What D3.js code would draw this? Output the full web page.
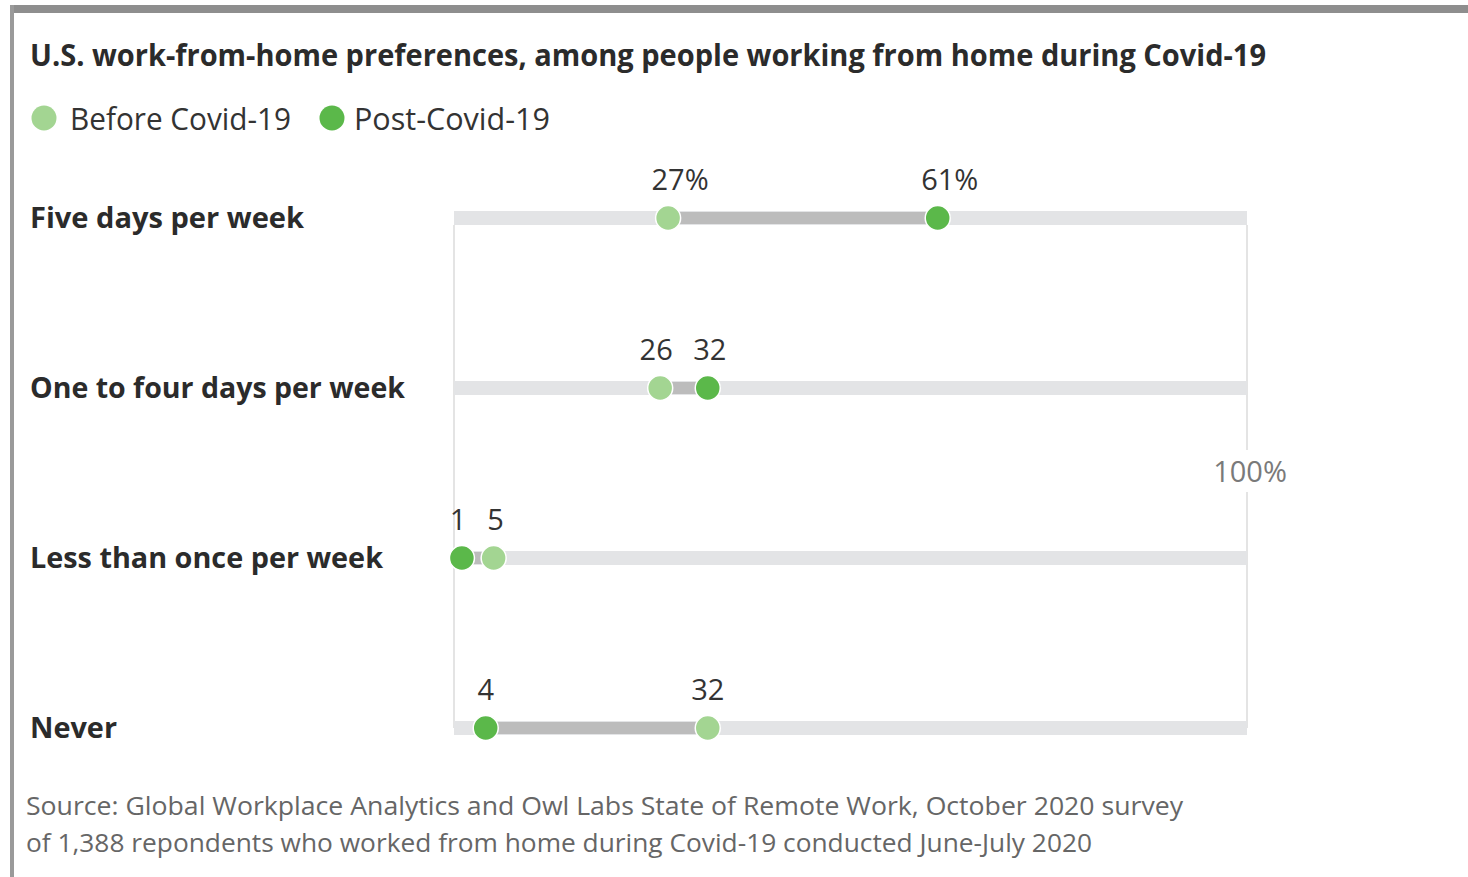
<!DOCTYPE html>
<html>
<head>
<meta charset="utf-8">
<script src="https://cdn.jsdelivr.net/npm/d3@7"></script>
<style>
  html, body { margin: 0; padding: 0; background: #fff; }
  svg { display: block; font-family: "Open Sans", "Noto Sans", sans-serif; }
</style>
</head>
<body>
<svg id="chart" width="1468" height="877"></svg>
<script>
// Share of remote workers by preferred work-from-home frequency
const categories = ["Five days per week", "One to four days per week", "Less than once per week", "Never"];
const beforeCovid = [27, 26, 5, 32];
const postCovid = [61, 32, 1, 4];
const seriesNames = ["Before Covid-19", "Post-Covid-19"];
const axisMaxLabel = "100%";
const title = "U.S. work-from-home preferences, among people working from home during Covid-19";
const sourceLines = [
  "Source: Global Workplace Analytics and Owl Labs State of Remote Work, October 2020 survey",
  "of 1,388 repondents who worked from home during Covid-19 conducted June-July 2020"
];

const colors = { before: "#a3d592", post: "#5bb84a", track: "#e3e4e6", span: "#bcbcbc", grid: "#e4e4e4" };

const svg = d3.select("#chart");

// frame
svg.append("rect").attr("x", 10).attr("y", 5).attr("width", 1458).attr("height", 8).attr("fill", "#8e8e8e");
svg.append("rect").attr("x", 10).attr("y", 5).attr("width", 4).attr("height", 872).attr("fill", "#9a9a9a");

// title
svg.append("text").attr("x", 30).attr("y", 66)
  .attr("font-size", 30).attr("font-weight", 700).attr("fill", "#2b2b2b")
  .attr("textLength", 1236).attr("lengthAdjust", "spacingAndGlyphs")
  .text(title);

// legend
const legend = [
  { name: seriesNames[0], color: colors.before, cx: 44, tx: 70, w: 221 },
  { name: seriesNames[1], color: colors.post, cx: 332, tx: 354, w: 196 }
];
legend.forEach(l => {
  svg.append("circle").attr("cx", l.cx).attr("cy", 118).attr("r", 12.5).attr("fill", l.color);
  svg.append("text").attr("x", l.tx).attr("y", 130).attr("font-size", 31).attr("fill", "#333")
    .attr("textLength", l.w).attr("lengthAdjust", "spacingAndGlyphs").text(l.name);
});

const x = d3.scaleLinear().domain([0, 100]).range([454, 1247]);
const y = d3.scalePoint().domain(categories).range([218, 728]);

// vertical guides at 0 and 100
const gridTop = y(categories[0]) + 7, gridBottom = y(categories[categories.length - 1]);
[0, 100].forEach(v => {
  svg.append("line").attr("x1", x(v)).attr("x2", x(v)).attr("y1", gridTop).attr("y2", gridBottom)
    .attr("stroke", colors.grid).attr("stroke-width", 2);
});

// 100% label with white knockout
svg.append("rect").attr("x", x(100) - 8).attr("y", 450).attr("width", 16).attr("height", 42).attr("fill", "#fff");
svg.append("text").attr("x", x(100) + 3).attr("y", 482).attr("text-anchor", "middle")
  .attr("font-size", 29).attr("fill", "#7a7a7a").text(axisMaxLabel);

const rows = categories.map((c, i) => ({ cat: c, before: beforeCovid[i], post: postCovid[i], first: i === 0 }));

const g = svg.append("g");

// row labels
const rowWidths = [274, 375, 353, 87];
g.selectAll("text.row").data(rows).join("text")
  .attr("class", "row").attr("x", 30).attr("y", d => y(d.cat) + 10)
  .attr("font-size", 29).attr("font-weight", 700).attr("fill", "#2b2b2b")
  .attr("textLength", (d, i) => rowWidths[i]).attr("lengthAdjust", "spacingAndGlyphs")
  .text(d => d.cat);

// background tracks
g.selectAll("rect.track").data(rows).join("rect")
  .attr("x", x(0)).attr("width", x(100) - x(0))
  .attr("y", d => y(d.cat) - 7).attr("height", 14).attr("fill", colors.track);

// span between the two values
g.selectAll("rect.span").data(rows).join("rect")
  .attr("x", d => x(Math.min(d.before, d.post)))
  .attr("width", d => Math.abs(x(d.post) - x(d.before)))
  .attr("y", d => y(d.cat) - 6).attr("height", 12).attr("fill", colors.span);

// dots
const dots = [];
rows.forEach(d => {
  dots.push({ cat: d.cat, v: d.before, color: colors.before, row: d, other: d.post });
  dots.push({ cat: d.cat, v: d.post, color: colors.post, row: d, other: d.before });
});
g.selectAll("circle.dot").data(dots).join("circle")
  .attr("cx", d => x(d.v)).attr("cy", d => y(d.cat)).attr("r", 12.5)
  .attr("fill", d => d.color).attr("stroke", "#fff").attr("stroke-width", 1.5);

// value labels; digits centred over the dot, nudged apart when dots are close
dots.forEach(d => {
  const close = Math.abs(x(d.v) - x(d.other)) < 50;
  const nudge = close ? (d.v < d.other ? -4 : 2) : 0;
  const t = g.append("text").attr("y", y(d.cat) - 28).attr("font-size", 29).attr("fill", "#333")
    .text(d.v);
  const w = t.node().getComputedTextLength();
  t.attr("x", x(d.v) - w / 2 + nudge);
  if (d.row.first) t.text(d.v + "%");
});

// source
sourceLines.forEach((s, i) => {
  svg.append("text").attr("x", 26).attr("y", 815 + i * 37)
    .attr("font-size", 25).attr("fill", "#666")
    .attr("textLength", i === 0 ? 1157 : 1066).attr("lengthAdjust", "spacingAndGlyphs")
    .text(s);
});
</script>
</body>
</html>
